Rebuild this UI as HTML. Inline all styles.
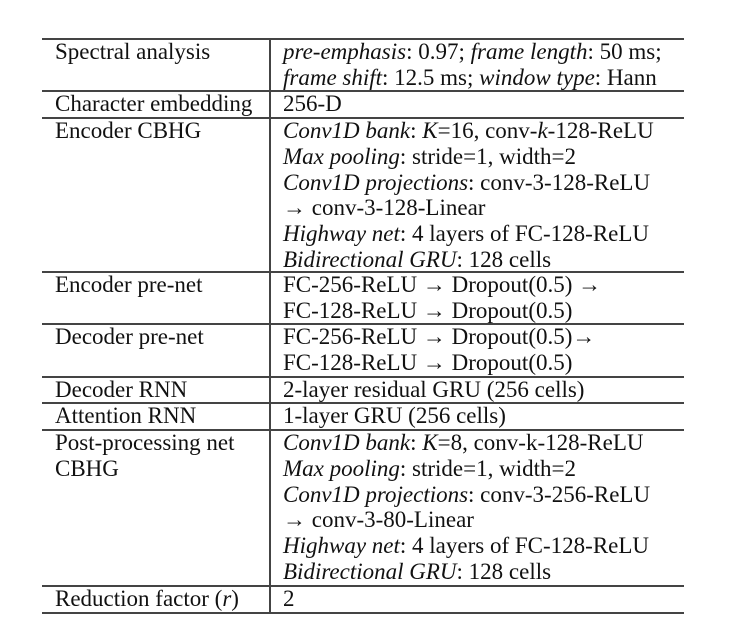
<!DOCTYPE html>
<html><head><meta charset="utf-8"><style>
body{margin:0;width:754px;height:640px;background:#fff;position:relative;overflow:hidden;font-family:"Liberation Serif",serif;color:#111}
.h{position:absolute;left:42px;width:642px;height:1.5px;background:#444}
.v{position:absolute;left:269px;width:1.5px;top:39px;height:574px;background:#444}
.c{position:absolute;font-size:23px;line-height:25.8px;white-space:nowrap;transform-origin:0 0}
.l{left:55px}.r{left:283px}
i{font-style:italic}
</style></head><body>
<div class="h" style="top:38px"></div>
<div class="h" style="top:90px"></div>
<div class="h" style="top:117px"></div>
<div class="h" style="top:271px"></div>
<div class="h" style="top:323px"></div>
<div class="h" style="top:376px"></div>
<div class="h" style="top:402px"></div>
<div class="h" style="top:429px"></div>
<div class="h" style="top:585px"></div>
<div class="h" style="top:612px"></div>
<div class="v"></div>

<div class="c l" style="top:39px">Spectral analysis</div>
<div class="c r" style="top:39px"><i>pre-emphasis</i>: 0.97; <i>frame length</i>: 50 ms;<br><i>frame shift</i>: 12.5 ms; <i>window type</i>: Hann</div>

<div class="c l" style="top:91px">Character embedding</div>
<div class="c r" style="top:91px">256-D</div>

<div class="c l" style="top:118px">Encoder CBHG</div>
<div class="c r" style="top:118px"><i>Conv1D bank</i>: <i>K</i>=16, conv-<i>k</i>-128-ReLU<br><i>Max pooling</i>: stride=1, width=2<br><i>Conv1D projections</i>: conv-3-128-ReLU<br>→ conv-3-128-Linear<br><i>Highway net</i>: 4 layers of FC-128-ReLU<br><i>Bidirectional GRU</i>: 128 cells</div>

<div class="c l" style="top:272px">Encoder pre-net</div>
<div class="c r" style="top:272px">FC-256-ReLU → Dropout(0.5) →<br>FC-128-ReLU → Dropout(0.5)</div>

<div class="c l" style="top:324px">Decoder pre-net</div>
<div class="c r" style="top:324px">FC-256-ReLU → Dropout(0.5)→<br>FC-128-ReLU → Dropout(0.5)</div>

<div class="c l" style="top:377px">Decoder RNN</div>
<div class="c r" style="top:377px">2-layer residual GRU (256 cells)</div>

<div class="c l" style="top:403px">Attention RNN</div>
<div class="c r" style="top:403px">1-layer GRU (256 cells)</div>

<div class="c l" style="top:430px">Post-processing net<br>CBHG</div>
<div class="c r" style="top:430px"><i>Conv1D bank</i>: <i>K</i>=8, conv-k-128-ReLU<br><i>Max pooling</i>: stride=1, width=2<br><i>Conv1D projections</i>: conv-3-256-ReLU<br>→ conv-3-80-Linear<br><i>Highway net</i>: 4 layers of FC-128-ReLU<br><i>Bidirectional GRU</i>: 128 cells</div>

<div class="c l" style="top:586px">Reduction factor (<i>r</i>)</div>
<div class="c r" style="top:586px">2</div>
</body></html>
